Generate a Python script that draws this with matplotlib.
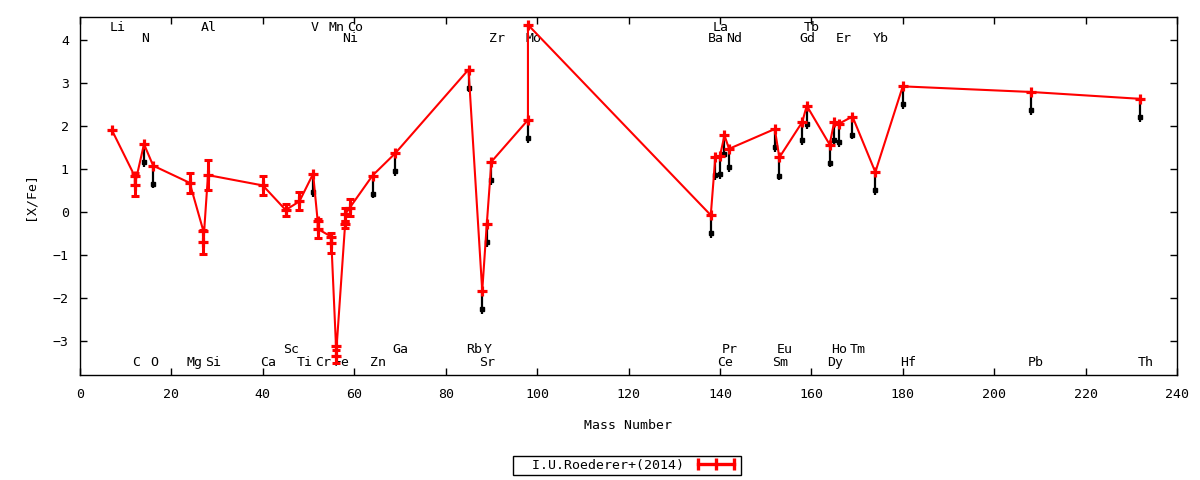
import numpy as np
import matplotlib.pyplot as plt
from matplotlib.lines import Line2D

# abundance points, in the order the line connects them
elem = ['Li', 'C', 'C', 'N', 'O', 'Mg', 'Al', 'Al', 'Si', 'Ca', 'Sc', 'Ti', 'V',
        'Cr', 'Cr', 'Mn', 'Mn', 'Fe', 'Fe', 'Ni', 'Ni', 'Co', 'Zn', 'Ga', 'Rb',
        'Sr', 'Y', 'Zr', 'Mo', 'Mo', 'Ba', 'La', 'Ce', 'Pr', 'Nd', 'Sm', 'Eu',
        'Gd', 'Tb', 'Dy', 'Ho', 'Er', 'Tm', 'Yb', 'Hf', 'Pb', 'Th']
mass = [7, 12, 12, 14, 16, 24, 27, 27, 28, 40, 45, 48, 51,
        52, 52, 55, 55, 56, 56, 58, 58, 59, 64, 69, 85,
        88, 89, 90, 98, 98, 138, 139, 140, 141, 142, 152, 153,
        158, 159, 164, 165, 166, 169, 174, 180, 208, 232]
xfe = [1.90, 0.83, 0.64, 1.58, 1.08, 0.68, -0.44, -0.69, 0.86, 0.62, 0.05, 0.25, 0.89,
       -0.21, -0.39, -0.57, -0.71, -3.10, -3.35, -0.28, -0.05, 0.10, 0.85, 1.37, 3.31,
       -1.83, -0.27, 1.17, 2.14, 4.35, -0.07, 1.28, 1.30, 1.78, 1.47, 1.93, 1.27,
       2.09, 2.47, 1.57, 2.09, 2.05, 2.22, 0.93, 2.92, 2.79, 2.63]
err = [0, 0, 0.26, 0, 0, 0.23, 0, 0.27, 0.35, 0.22, 0.15, 0.21, 0,
       0, 0.22, 0, 0.23, 0, 0.15, 0.08, 0.15, 0.20, 0, 0, 0,
       0, 0, 0, 0, 0, 0, 0, 0, 0, 0, 0, 0,
       0, 0, 0, 0, 0, 0, 0, 0, 0, 0]
# 1 = upper limit (black arrow)
ulim = [0, 0, 0, 1, 1, 0, 0, 0, 0, 0, 0, 0, 1,
        0, 0, 0, 0, 0, 0, 0, 0, 0, 1, 1, 1,
        1, 1, 1, 1, 0, 1, 1, 1, 1, 1, 1, 1,
        1, 1, 1, 1, 1, 1, 1, 1, 1, 1]

# element names written along the top and bottom of the frame
lab_name = ['Li', 'Al', 'V', 'Mn', 'Co', 'La', 'Tb',
            'N', 'Ni', 'Zr', 'Mo', 'Ba', 'Nd', 'Gd', 'Er', 'Yb',
            'Sc', 'Ga', 'Rb', 'Y', 'Pr', 'Eu', 'Ho', 'Tm',
            'C', 'O', 'Mg', 'Si', 'Ca', 'Ti', 'Cr', 'Fe', 'Zn', 'Sr', 'Ce', 'Sm',
            'Dy', 'Hf', 'Pb', 'Th']
lab_mass = [7, 27, 51, 55, 59, 139, 159,
            14, 58, 90, 98, 138, 142, 158, 166, 174,
            45, 69, 85, 89, 141, 153, 165, 169,
            12, 16, 24, 28, 40, 48, 52, 56, 64, 88, 140, 152,
            164, 180, 208, 232]
lab_row = [0] * 7 + [1] * 9 + [2] * 8 + [3] * 16
row_y = [0.972, 0.941, 0.070, 0.034]

mass = np.array(mass, dtype=float)
xfe = np.array(xfe)
err = np.array(err)
ulim = np.array(ulim, dtype=bool)

plt.rcParams['font.family'] = 'DejaVu Sans Mono'
plt.rcParams['font.size'] = 9.5

fig = plt.figure(figsize=(12, 4.8), dpi=100)
ax = fig.add_axes([80/1200, 105/480, 1097/1200, 358/480])

# upper limit arrows
ax.vlines(mass[ulim], xfe[ulim] - 0.53, xfe[ulim], color='black', lw=1.6, zorder=2)
ax.plot(mass[ulim], xfe[ulim] - 0.42, 's', color='black', ms=3.4, zorder=2)

ax.plot(mass, xfe, '-', color='red', lw=1.5, marker='+', ms=7, mew=2.3, zorder=3)
e = err > 0
ax.errorbar(mass[e], xfe[e], yerr=err[e], fmt='none', ecolor='red',
            elinewidth=2.2, capsize=3, capthick=2.2, zorder=3)

tr = ax.get_xaxis_transform()
for n, m, r in zip(lab_name, lab_mass, lab_row):
    ax.text(m - 0.6, row_y[r], n, transform=tr, ha='left', va='center', zorder=1)

ax.set_xlim(0, 240)
ax.set_ylim(-3.78, 4.53)
ax.set_xticks(np.arange(0, 241, 20))
ax.set_yticks(np.arange(-3, 5, 1))
ax.tick_params(direction='in', length=5, width=1, top=True, right=True)
ax.tick_params(axis='x', pad=9)
ax.tick_params(axis='y', pad=8)
for s in ax.spines.values():
    s.set_linewidth(1)

ax.set_xlabel('Mass Number')
ax.xaxis.set_label_coords(0.5, -0.14)
ax.xaxis.label.set_va('center')
ax.set_ylabel('[X/Fe]')
ax.yaxis.set_label_coords(-0.046, 0.5)
ax.yaxis.label.set_va('center')

proxy = Line2D([], [], color='red', lw=2.4, marker='|', ms=8, mew=2.4)
leg = fig.legend([proxy], ['  I.U.Roederer+(2014)'], loc='center',
                 bbox_to_anchor=(627/1200, 1 - 465.5/480), markerfirst=False,
                 numpoints=3, handlelength=3.3, fancybox=False, framealpha=1,
                 edgecolor='black', borderpad=0.25, handletextpad=0.8, borderaxespad=0)
leg.get_frame().set_linewidth(1)

fig.savefig('out.png', dpi=100)
